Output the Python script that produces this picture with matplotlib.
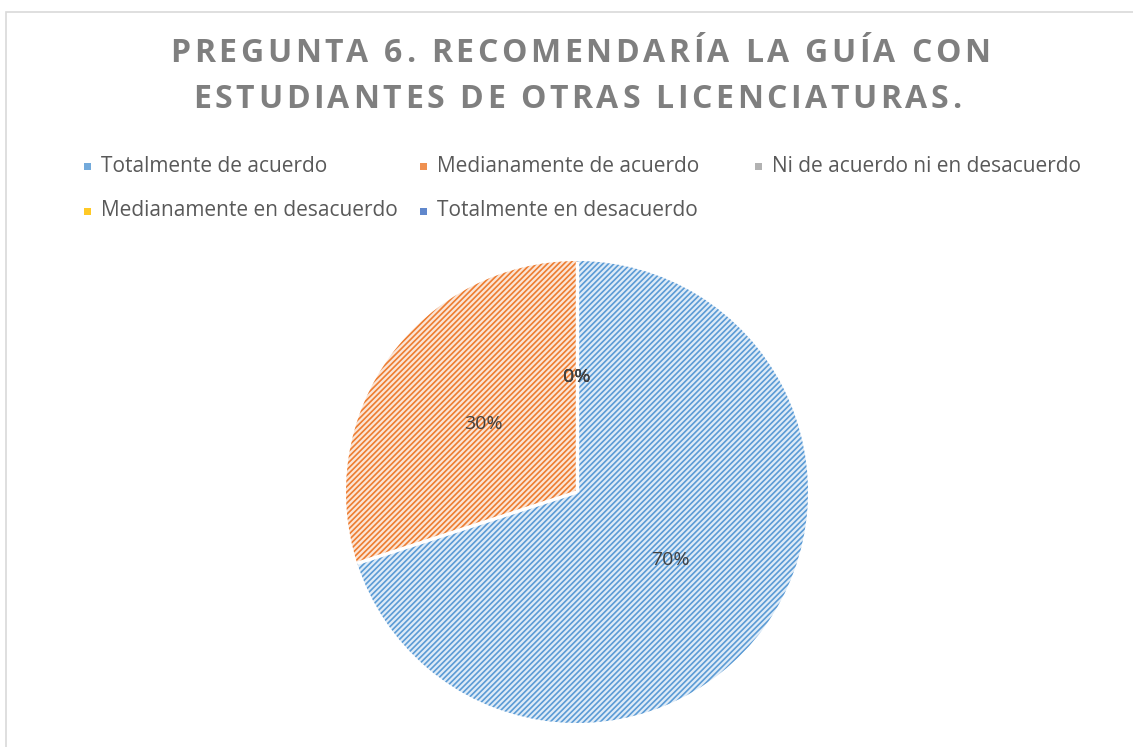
import matplotlib
matplotlib.use("Agg")
import matplotlib.pyplot as plt
import numpy as np
from matplotlib.patches import Rectangle

# ---- data ----
categories = ["Totalmente de acuerdo", "Medianamente de acuerdo",
              "Ni de acuerdo ni en desacuerdo", "Medianamente en desacuerdo",
              "Totalmente en desacuerdo"]
values = [70, 30, 0, 0, 0]
title_lines = ["PREGUNTA 6. RECOMENDARÍA LA GUÍA CON",
               "ESTUDIANTES DE OTRAS LICENCIATURAS."]

hatch_colors = ["#5B9BD5", "#ED7D31", "#A5A5A5", "#FFC000", "#4472C4"]
fill_colors = ["#DEEBF7", "#FBE5D6", "#EDEDED", "#FFF2CC", "#DAE3F3"]

plt.rcParams['font.family'] = ['Open Sans', 'DejaVu Sans']
plt.rcParams['hatch.linewidth'] = 1.2

W, H = 1133, 747
fig = plt.figure(figsize=(W / 100, H / 100), dpi=100)
fig.patch.set_facecolor("white")

# frame
fig.patches.append(Rectangle((6 / W, -0.05), 1.2, (H - 12) / H + 0.05,
                             transform=fig.transFigure, fill=False,
                             edgecolor="#D9D9D9", linewidth=1.2))

# pie axes
cx, cy, r = 577, 492, 231
ax = fig.add_axes([(cx - r) / W, (H - cy - r) / H, 2 * r / W, 2 * r / H])
wedges, _, autotexts = ax.pie(values, startangle=90, counterclock=False, radius=1,
                              colors=fill_colors,
                              wedgeprops=dict(linewidth=0, hatch="//////"),
                              autopct="%1.0f%%", pctdistance=0.5,
                              textprops=dict(color="#404040", fontsize=14))
for w, hc in zip(wedges, hatch_colors):
    w.set_edgecolor(hc)
    w.set_linewidth(0)
    w.set_clip_on(False)

# white separators between slices (radial lines only)
bounds = 90 - 360 * np.cumsum([0] + values) / np.sum(values)
for a in np.unique(np.round(bounds % 360, 6)):
    t = np.deg2rad(a)
    ax.plot([0, np.cos(t)], [0, np.sin(t)], color="white", lw=2.5,
            solid_capstyle="butt", clip_on=False, zorder=3)
for t in autotexts:
    t.set_zorder(4)

ax.set_xlim(-1, 1)
ax.set_ylim(-1, 1)
ax.set_aspect("equal")
ax.axis("off")

# title with letter spacing
renderer = fig.canvas.get_renderer()
def spaced_text(s, xc, yc, spacing_px, **kw):
    widths = []
    for ch in s:
        t = fig.text(0, 0, ch if ch != " " else "\u00a0", **kw)
        widths.append(t.get_window_extent(renderer).width)
        t.remove()
    total = sum(widths) + spacing_px * (len(s) - 1)
    x = xc - total / 2
    for ch, wdt in zip(s, widths):
        if ch != " ":
            fig.text(x / W, 1 - yc / H, ch, ha="left", va="center", **kw)
        x += wdt + spacing_px

tkw = dict(fontsize=23, fontweight="bold", color="#7F7F7F")
spaced_text(title_lines[0], 580, 54, 3.6, **tkw)
spaced_text(title_lines[1], 577, 100, 3.6, **tkw)

# legend (Excel-style grid)
col_x = [84, 420, 755]
row_y = [166, 211]
for i, (lab, hc) in enumerate(zip(categories, hatch_colors)):
    row, col = divmod(i, 3)
    x, y = col_x[col], row_y[row]
    fig.patches.append(Rectangle((x / W, (H - y - 3.5) / H), 7 / W, 7 / H,
                                 transform=fig.transFigure, facecolor=hc,
                                 alpha=0.85, linewidth=0))
    fig.text((x + 17) / W, 1 - y / H, lab, ha="left", va="center",
             fontsize=15, color="#595959")

fig.savefig("out.png", dpi=100, facecolor="white")
